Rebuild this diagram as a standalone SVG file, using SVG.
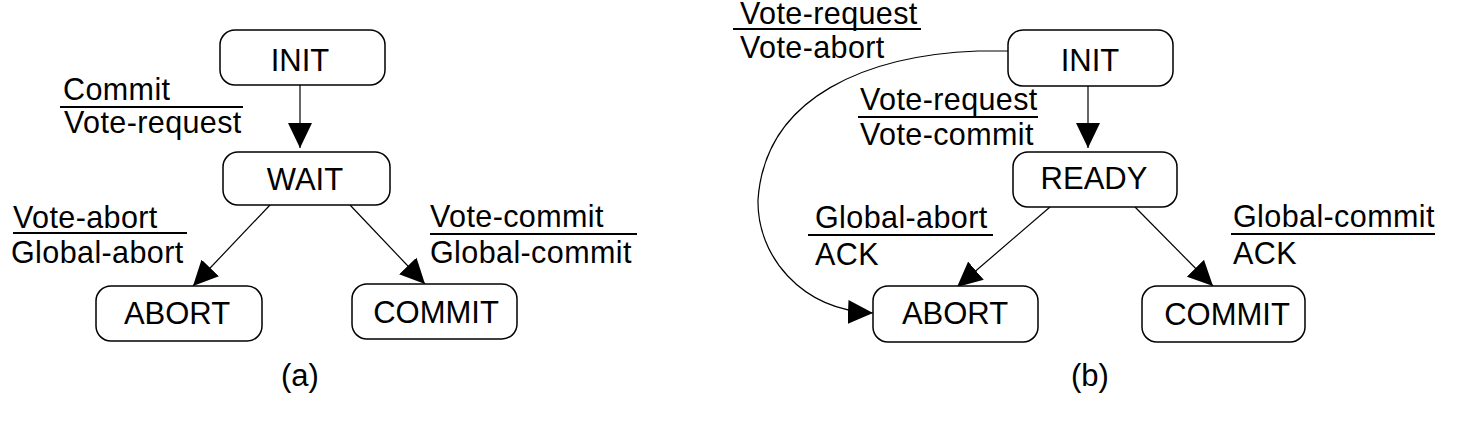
<svg xmlns="http://www.w3.org/2000/svg" width="1470" height="432" viewBox="0 0 1470 432">
<style>
.box{fill:#fff;stroke:#000;stroke-width:1.5}
.st{font-family:"Liberation Sans",Arial,sans-serif;font-size:31px;fill:#000;text-anchor:middle}
.lb{font-family:"Liberation Sans",Arial,sans-serif;font-size:30.5px;letter-spacing:0.4px;fill:#000}
.cap{font-family:"Liberation Sans",Arial,sans-serif;font-size:31px;fill:#000;text-anchor:middle}
.bar{stroke:#000;stroke-width:2}
.edge{fill:none;stroke:#000;stroke-width:1.2;marker-end:url(#ah)}
</style>
<defs>
<marker id="ah" markerUnits="userSpaceOnUse" markerWidth="26" markerHeight="24" refX="25" refY="12" orient="auto">
<path d="M0,0 L25,12 L0,24 z" fill="#000"/>
</marker>
</defs>
<rect width="1470" height="432" fill="#fff"/>

<g id="connectors">
<line class="edge" x1="300" y1="85" x2="300" y2="148"/>
<line class="edge" x1="270" y1="205" x2="193" y2="286"/>
<line class="edge" x1="350" y1="205" x2="425" y2="284"/>
<line class="edge" x1="1088" y1="86" x2="1088" y2="148"/>
<line class="edge" x1="1050" y1="207" x2="957" y2="287"/>
<line class="edge" x1="1135" y1="207" x2="1213" y2="286"/>
<path class="edge" d="M1008,51 L978,51 C870,55 765,95 758,200 C757,255 800,310 873,313"/>
</g>

<g id="labels">
<text class="lb" x="63" y="100">Commit</text>
<line class="bar" x1="60" y1="107" x2="243" y2="107"/>
<text class="lb" x="64" y="133">Vote-request</text>

<text class="lb" x="13" y="228">Vote-abort</text>
<line class="bar" x1="13" y1="233" x2="187" y2="233"/>
<text class="lb" x="11" y="263">Global-abort</text>

<text class="lb" x="430" y="227">Vote-commit</text>
<line class="bar" x1="430" y1="234" x2="637" y2="234"/>
<text class="lb" x="430" y="263">Global-commit</text>

<text class="lb" x="740" y="24">Vote-request</text>
<line class="bar" x1="733" y1="29" x2="921" y2="29"/>
<text class="lb" x="740" y="58">Vote-abort</text>

<text class="lb" x="860" y="110">Vote-request</text>
<line class="bar" x1="858" y1="117" x2="1038" y2="117"/>
<text class="lb" x="860" y="145">Vote-commit</text>

<text class="lb" x="815" y="228">Global-abort</text>
<line class="bar" x1="808" y1="235" x2="993" y2="235"/>
<text class="lb" x="815" y="265">ACK</text>

<text class="lb" x="1233" y="227">Global-commit</text>
<line class="bar" x1="1231" y1="234" x2="1435" y2="234"/>
<text class="lb" x="1233" y="264">ACK</text>
</g>

<g id="a-init"><rect class="box" x="220" y="30" width="165" height="55" rx="15"/><text class="st" x="300" y="71">INIT</text></g>
<g id="a-wait"><rect class="box" x="223" y="152" width="167" height="53" rx="15"/><text class="st" x="305" y="190">WAIT</text></g>
<g id="a-abort"><rect class="box" x="96" y="286" width="166" height="55" rx="15"/><text class="st" x="177" y="324">ABORT</text></g>
<g id="a-commit"><rect class="box" x="352" y="284" width="165" height="55" rx="15"/><text class="st" x="436" y="323">COMMIT</text></g>

<g id="b-init"><rect class="box" x="1008" y="30" width="165" height="56" rx="15"/><text class="st" x="1090" y="71">INIT</text></g>
<g id="b-ready"><rect class="box" x="1013" y="152" width="164" height="55" rx="15"/><text class="st" x="1094" y="189">READY</text></g>
<g id="b-abort"><rect class="box" x="873" y="286" width="165" height="56" rx="15"/><text class="st" x="955" y="324">ABORT</text></g>
<g id="b-commit"><rect class="box" x="1142" y="286" width="163" height="56" rx="15"/><text class="st" x="1227" y="325">COMMIT</text></g>

<g id="captions">
<text class="cap" x="300" y="386">(a)</text>
<text class="cap" x="1090" y="386">(b)</text>
</g>
</svg>
